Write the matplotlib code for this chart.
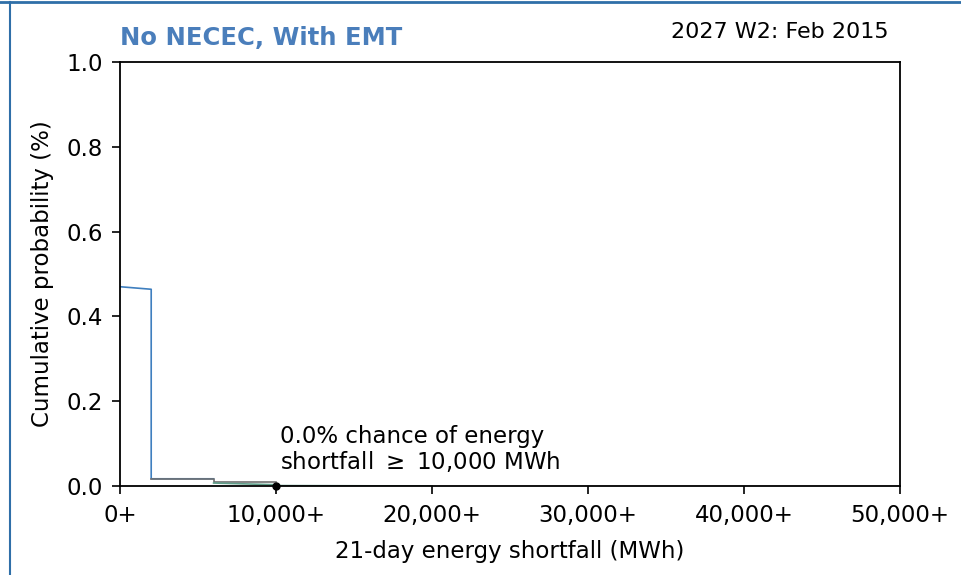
import matplotlib
matplotlib.use("Agg")
import matplotlib.pyplot as plt
from matplotlib.lines import Line2D
from matplotlib.ticker import FuncFormatter

# step curves (MWh, cumulative probability)
blue_x = [0, 2000, 2000, 6000]
blue_y = [0.470, 0.464, 0.017, 0.017]
grey_x = [2000, 6000, 6000, 10000]
grey_y = [0.017, 0.017, 0.009, 0.009]
green_x = [6000, 10000, 10000, 20000]
green_y = [0.007, 0.003, 0.001, 0.0]
flat_x = [10000, 50000]
flat_y = [0.0, 0.0]

marker_x = 10000
marker_y = 0.0
xticks = [0, 10000, 20000, 30000, 40000, 50000]
yticks = [0.0, 0.2, 0.4, 0.6, 0.8, 1.0]

fig = plt.figure(figsize=(9.61, 5.75), dpi=100)
ax = fig.add_axes([120 / 961, 1 - 486 / 575, 780 / 961, 424 / 575])

ax.plot(blue_x, blue_y, color="#3f7fbf", lw=1.2)
ax.plot(grey_x, grey_y, color="#707070", lw=1.2)
ax.plot(green_x, green_y, color="#5f9e8a", lw=1.2)
ax.plot(flat_x, flat_y, color="#555555", lw=1.0)
ax.plot([marker_x], [marker_y], "o", color="black", ms=5, clip_on=False, zorder=5)

ax.text(marker_x + 250, 0.028,
        "0.0% chance of energy\nshortfall $\\geq$ 10,000 MWh",
        fontsize=16.5, va="bottom", ha="left", linespacing=1.05)

ax.set_xlim(0, 50000)
ax.set_ylim(0, 1.0)
ax.set_xticks(xticks)
ax.set_yticks(yticks)
ax.xaxis.set_major_formatter(FuncFormatter(lambda v, p: "{:,}+".format(int(v))))
ax.tick_params(labelsize=16.5, length=6, width=1.2)
ax.tick_params(axis="x", pad=7)
ax.tick_params(axis="y", pad=6)
for s in ax.spines.values():
    s.set_linewidth(1.3)
ax.set_xlabel("21-day energy shortfall (MWh)", fontsize=16.5, labelpad=9)
ax.set_ylabel("Cumulative probability (%)", fontsize=16.5, labelpad=9)

fig.text(120 / 961, 1 - 38 / 575, "No NECEC, With EMT", color="#4a7ebb",
         fontsize=17.5, fontweight="bold", va="center", ha="left")
fig.text(889 / 961, 1 - 32 / 575, "2027 W2: Feb 2015", color="black",
         fontsize=16, va="center", ha="right")

# frame lines of the surrounding box
fig.add_artist(Line2D([0, 1], [1 - 2 / 575, 1 - 2 / 575], color="#2f6fa8", lw=2,
                      transform=fig.transFigure))
fig.add_artist(Line2D([10 / 961, 10 / 961], [0, 1 - 2 / 575], color="#2f6fa8", lw=1.5,
                      transform=fig.transFigure))

fig.savefig("out.png", dpi=100)
